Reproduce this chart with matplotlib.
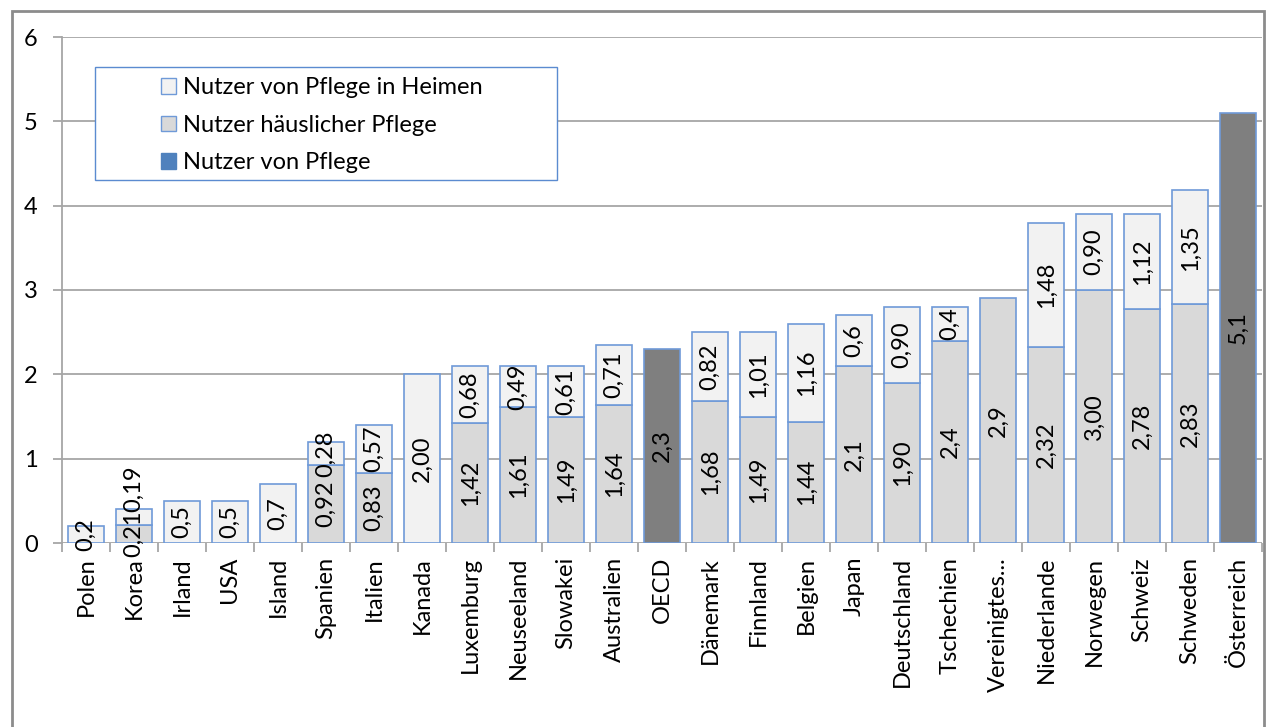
import matplotlib
matplotlib.use("Agg")
import matplotlib.pyplot as plt
from matplotlib.patches import Patch, Rectangle
import numpy as np

plt.rcParams['font.family'] = ['Lato', 'DejaVu Sans']

countries = ["Polen", "Korea", "Irland", "USA", "Island", "Spanien", "Italien", "Kanada",
             "Luxemburg", "Neuseeland", "Slowakei", "Australien", "OECD", "Dänemark",
             "Finnland", "Belgien", "Japan", "Deutschland", "Tschechien", "Vereinigtes...",
             "Niederlande", "Norwegen", "Schweiz", "Schweden", "Österreich"]

# Nutzer von Pflege (total only, dark bars)
total = [0, 0, 0, 0, 0, 0, 0, 0, 0, 0, 0, 0, 2.3, 0, 0, 0, 0, 0, 0, 0, 0, 0, 0, 0, 5.1]
total_labels = ["", "", "", "", "", "", "", "", "", "", "", "", "2,3", "", "", "", "", "", "", "", "", "", "", "", "5,1"]

# Nutzer häuslicher Pflege
home = [0, 0.21, 0, 0, 0, 0.92, 0.83, 0, 1.42, 1.61, 1.49, 1.64, 0, 1.68, 1.49, 1.44,
        2.1, 1.90, 2.4, 2.9, 2.32, 3.00, 2.78, 2.83, 0]
home_labels = ["", "0,21", "", "", "", "0,92", "0,83", "", "1,42", "1,61", "1,49", "1,64", "",
               "1,68", "1,49", "1,44", "2,1", "1,90", "2,4", "2,9", "2,32", "3,00", "2,78", "2,83", ""]

# Nutzer von Pflege in Heimen
resid = [0.2, 0.19, 0.5, 0.5, 0.7, 0.28, 0.57, 2.00, 0.68, 0.49, 0.61, 0.71, 0, 0.82, 1.01,
         1.16, 0.6, 0.90, 0.4, 0, 1.48, 0.90, 1.12, 1.35, 0]
resid_labels = ["0,2", "0,19", "0,5", "0,5", "0,7", "0,28", "0,57", "2,00", "0,68", "0,49", "0,61",
                "0,71", "", "0,82", "1,01", "1,16", "0,6", "0,90", "0,4", "", "1,48", "0,90",
                "1,12", "1,35", ""]

W, H = 1266, 727
fig = plt.figure(figsize=(W / 100, H / 100), dpi=100)
ax = fig.add_axes([62 / W, (H - 543) / H, (1262 - 62) / W, (543 - 37) / H])

FS = 17
edge = '#6F9AD8'
x = np.arange(len(countries))
bw = 0.73
total = np.array(total); home = np.array(home); resid = np.array(resid)

def draw(vals, bottom, color, labels, below=None):
    for i, (v, b, lab) in enumerate(zip(vals, bottom, labels)):
        if v <= 0:
            continue
        ax.bar(x[i], v, bw, bottom=b, color=color, edgecolor=edge, linewidth=1.2, zorder=3)
        if below is not None and below[i] > 0 and below[i] < 0.3 and v < 0.3:
            # tiny stacked segments: put the label just above the lower label
            ax.annotate(lab, (x[i], below[i] / 2), xytext=(0, 16), textcoords='offset points',
                        rotation=90, ha='center', va='bottom', fontsize=FS,
                        color='black', zorder=4, annotation_clip=False)
        else:
            ax.text(x[i], b + v / 2, lab, rotation=90, ha='center', va='center',
                    fontsize=FS, color='black', zorder=4, clip_on=False)

draw(total, np.zeros(len(x)), '#7F7F7F', total_labels)
draw(home, total, '#D9D9D9', home_labels)
draw(resid, total + home, '#F2F2F2', resid_labels, below=home)

ax.set_xlim(-0.5, len(x) - 0.5)
ax.set_ylim(0, 6)
ax.set_yticks(range(0, 7))
ax.yaxis.grid(True, color='#A6A6A6', linewidth=1.3, zorder=0)
ax.set_axisbelow(True)
for s in ['top', 'right', 'bottom']:
    ax.spines[s].set_visible(False)
ax.spines['left'].set_color('#A6A6A6')
ax.spines['left'].set_linewidth(1.3)
ax.tick_params(axis='y', length=6.5, color='#A6A6A6', width=1.3, labelsize=FS, pad=11)
ax.set_xticks(x)
ax.set_xticklabels(countries, rotation=90, fontsize=FS, va='top', ha='center')
ax.set_xticks(np.arange(-0.5, len(x)), minor=True)
ax.tick_params(axis='x', which='major', length=0, pad=10)
ax.tick_params(axis='x', which='minor', length=6.5, color='#A6A6A6', width=1.3)

# legend box
fig.add_artist(Rectangle((95 / W, 1 - 180 / H), (557 - 95) / W, (180 - 67) / H,
                         transform=fig.transFigure, facecolor='white', edgecolor='#5B8BD0',
                         linewidth=1.0, zorder=5))
handles = [Patch(facecolor='#F2F2F2', edgecolor=edge, label='Nutzer von Pflege in Heimen'),
           Patch(facecolor='#D9D9D9', edgecolor=edge, label='Nutzer häuslicher Pflege'),
           Patch(facecolor='#4F81BD', edgecolor='#4F81BD', label='Nutzer von Pflege')]
leg = fig.legend(handles=handles, loc='upper left', bbox_to_anchor=(147 / W, 1 - 63 / H),
                 bbox_transform=fig.transFigure, frameon=False, fontsize=FS,
                 handlelength=0.64, handleheight=0.64, handletextpad=0.28,
                 labelspacing=0.7, borderpad=0.1)
leg.set_zorder(6)

# outer chart border
fig.add_artist(Rectangle((12 / W, -0.05), (1264 - 12) / W, 1.05 - 11 / H,
                         transform=fig.transFigure, fill=False, edgecolor='#8C8C8C',
                         linewidth=2.0, clip_on=False))

fig.savefig('out.png', dpi=100)
